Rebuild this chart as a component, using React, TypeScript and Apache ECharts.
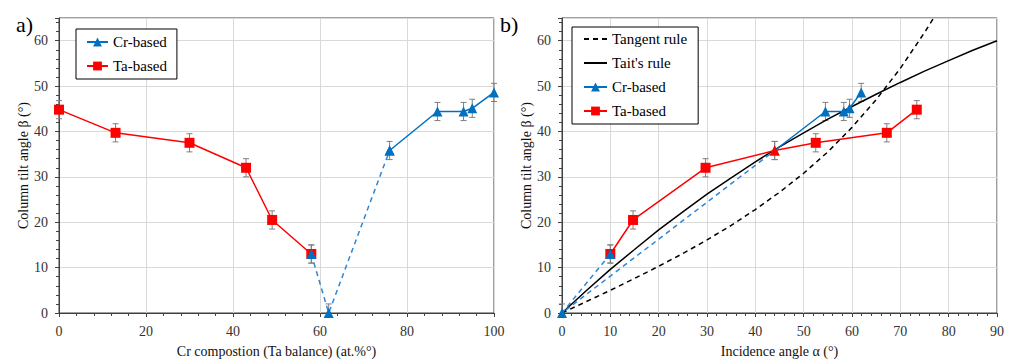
import React, { useEffect, useRef } from 'react';
import * as echarts from 'echarts';

// ---------- Panel a) : composition ----------
const taComp = [0, 13, 30, 43, 49, 58];
const taBetaA = [44.8, 39.7, 37.5, 32.0, 20.5, 13.0];
const crComp = [58, 62, 76, 87, 93, 95, 100];
const crBetaA = [13.0, 0, 35.8, 44.4, 44.4, 45.1, 48.6];

// ---------- Panel b) : incidence angle ----------
const taAlpha = [10, 14.7, 29.7, 44, 52.5, 67.2, 73.4];
const taBetaB = [13.0, 20.5, 32.0, 35.8, 37.5, 39.7, 44.8];
const crAlpha = [10, 0, 44, 54.5, 58.3, 59.5, 61.9];
const crBetaB = [13.0, 0, 35.8, 44.4, 44.4, 45.1, 48.6];

const tangentAlpha = [0, 5, 10, 15, 20, 25, 30, 35, 40, 45, 50, 55, 60, 65, 70, 75, 76.9];
const tangentBeta = [0, 2.5, 5.0, 7.6, 10.3, 13.1, 16.1, 19.3, 22.8, 26.6, 30.8, 35.5, 40.9, 47.0, 53.9, 61.8, 65.0];
const taitAlpha = [0, 5, 10, 15, 20, 25, 30, 35, 40, 45, 50, 55, 60, 65, 70, 75, 80, 85, 90];
const taitBeta = [0, 4.9, 9.6, 14.0, 18.3, 22.3, 26.2, 29.8, 33.3, 36.6, 39.7, 42.7, 45.5, 48.2, 50.8, 53.3, 55.6, 57.9, 60.0];

const errBeta = 2.0; // error bar half-length (°)

const yTicks = { min: 0, max: 65, interval: 10 };

const RED = '#FF0000';
const BLUE = '#0070C0';
const BLUE_DASH = '#2F86D6';
const GREY = '#7F7F7F';
const FONT = 'Liberation Serif';

const zip = (xs: number[], ys: number[]) => xs.map((x, i) => [x, ys[i]]);

function errorSeries(xs: number[], ys: number[], idx: number) {
  return {
    type: 'custom',
    xAxisIndex: idx,
    yAxisIndex: idx,
    z: 1,
    silent: true,
    encode: { x: 0, y: 1 },
    data: xs.map((x, i) => [x, ys[i], errBeta]),
    renderItem: (params: any, api: any) => {
      const x = api.value(0);
      const y = api.value(1);
      const e = api.value(2);
      const top = api.coord([x, y + e]);
      const lowVal = Math.max(y - e, 0);
      const bot = api.coord([x, lowVal]);
      const w = 3;
      const st = { stroke: GREY, lineWidth: 1 };
      const children: any[] = [
        { type: 'line', shape: { x1: top[0], y1: top[1], x2: bot[0], y2: bot[1] }, style: st },
        { type: 'line', shape: { x1: top[0] - w, y1: top[1], x2: top[0] + w, y2: top[1] }, style: st },
      ];
      if (y - e >= 0) {
        children.push({ type: 'line', shape: { x1: bot[0] - w, y1: bot[1], x2: bot[0] + w, y2: bot[1] }, style: st });
      }
      return { type: 'group', children };
    },
  };
}

function xAxis(idx: number, max: number, interval: number, name: string) {
  return {
    type: 'value',
    gridIndex: idx,
    min: 0,
    max,
    interval,
    name,
    nameLocation: 'middle',
    nameGap: 31,
    nameTextStyle: { fontFamily: FONT, fontSize: 14, color: '#111' },
    axisLine: { show: true, onZero: false, lineStyle: { color: '#404040', width: 1 } },
    axisTick: { show: true, length: 4, lineStyle: { color: '#404040' } },
    minorTick: { show: true, splitNumber: 5, length: 3, lineStyle: { color: '#404040' } },
    axisLabel: { margin: 11, fontFamily: FONT, fontSize: 14, color: '#333' },
    splitLine: { show: true, lineStyle: { color: '#D9D9D9', width: 1 } },
  };
}

function yAxis(idx: number) {
  return {
    type: 'value',
    gridIndex: idx,
    min: yTicks.min,
    max: yTicks.max,
    interval: yTicks.interval,
    name: 'Column tilt angle β (°)',
    nameLocation: 'middle',
    nameGap: 29,
    nameTextStyle: { fontFamily: FONT, fontSize: 14, color: '#111' },
    axisLine: { show: true, onZero: false, lineStyle: { color: '#404040', width: 1 } },
    axisTick: { show: true, length: 4, lineStyle: { color: '#404040' } },
    minorTick: { show: true, splitNumber: 5, length: 3, lineStyle: { color: '#404040' } },
    axisLabel: { margin: 11, fontFamily: FONT, fontSize: 14, color: '#333', showMaxLabel: false },
    splitLine: { show: true, lineStyle: { color: '#D9D9D9', width: 1 } },
  };
}

const noSymbol = { color: 'rgba(0,0,0,0)', borderColor: 'rgba(0,0,0,0)', borderWidth: 0 };

export default function App() {
  const ref = useRef<HTMLDivElement>(null);

  useEffect(() => {
    if (!ref.current) return;
    const chart = echarts.init(ref.current, undefined, { renderer: 'svg' });

    const legendCommon = {
      orient: 'vertical',
      backgroundColor: '#fff',
      borderColor: '#000',
      borderWidth: 1,
      borderRadius: 0,
      itemHeight: 11,
      itemGap: 8,
      selectedMode: false,
      textStyle: { fontFamily: FONT, fontSize: 15, color: '#000', lineHeight: 16 },
    };

    const option: any = {
      animation: false,
      backgroundColor: '#fff',
      textStyle: { fontFamily: FONT },
      grid: [
        { left: 59, top: 18, width: 435, height: 298, show: true, borderColor: '#404040', borderWidth: 1, backgroundColor: 'transparent' },
        { left: 562, top: 18, width: 435, height: 298, show: true, borderColor: '#404040', borderWidth: 1, backgroundColor: 'transparent' },
      ],
      xAxis: [
        xAxis(0, 100, 20, 'Cr compostion (Ta balance) (at.%°)'),
        xAxis(1, 90, 10, 'Incidence angle α (°)'),
      ],
      yAxis: [yAxis(0), yAxis(1)],
      legend: [
        {
          ...legendCommon,
          data: ['Cr-based', 'Ta-based'],
          left: 76,
          top: 29,
          itemWidth: 21,
          padding: [5, 10, 5, 10],
        },
        {
          ...legendCommon,
          data: [
            { name: 'Tangent rule', itemStyle: noSymbol },
            { name: "Tait's rule", itemStyle: noSymbol },
            'Cr-based',
            'Ta-based',
          ],
          left: 572,
          top: 27,
          itemWidth: 23,
          padding: [4, 11, 5, 11],
        },
      ],
      graphic: [
        { type: 'text', left: 16, top: 13, style: { text: 'a)', font: `22px ${FONT}`, fill: '#000' } },
        { type: 'text', left: 500, top: 13, style: { text: 'b)', font: `22px ${FONT}`, fill: '#000' } },
      ],
      series: [
        // ---- panel a ----
        errorSeries(taComp, taBetaA, 0),
        errorSeries(crComp, crBetaA, 0),
        {
          name: 'Ta-based',
          type: 'line',
          xAxisIndex: 0,
          yAxisIndex: 0,
          z: 3,
          data: zip(taComp, taBetaA),
          symbol: 'rect',
          symbolSize: 10,
          lineStyle: { color: RED, width: 1.5 },
          itemStyle: { color: RED },
        },
        {
          name: 'Cr-based-dashed-a',
          type: 'line',
          xAxisIndex: 0,
          yAxisIndex: 0,
          z: 4,
          data: zip(crComp.slice(0, 3), crBetaA.slice(0, 3)),
          symbol: 'triangle',
          symbolSize: 10,
          lineStyle: { color: BLUE_DASH, width: 1.5, type: [5, 4] },
          itemStyle: { color: BLUE },
        },
        {
          name: 'Cr-based',
          type: 'line',
          xAxisIndex: 0,
          yAxisIndex: 0,
          z: 4,
          data: zip(crComp.slice(2), crBetaA.slice(2)),
          symbol: 'triangle',
          symbolSize: 10,
          lineStyle: { color: BLUE, width: 1.5 },
          itemStyle: { color: BLUE },
        },
        // ---- panel b ----
        errorSeries(taAlpha, taBetaB, 1),
        errorSeries(crAlpha, crBetaB, 1),
        {
          name: 'Tangent rule',
          type: 'line',
          xAxisIndex: 1,
          yAxisIndex: 1,
          z: 2,
          data: zip(tangentAlpha, tangentBeta),
          symbol: 'none',
          lineStyle: { color: '#000', width: 1.5, type: [5, 4] },
          itemStyle: { color: '#000' },
        },
        {
          name: "Tait's rule",
          type: 'line',
          xAxisIndex: 1,
          yAxisIndex: 1,
          z: 2,
          data: zip(taitAlpha, taitBeta),
          symbol: 'none',
          lineStyle: { color: '#000', width: 1.5 },
          itemStyle: { color: '#000' },
        },
        {
          name: 'Cr-based-dashed-b',
          type: 'line',
          xAxisIndex: 1,
          yAxisIndex: 1,
          z: 3,
          data: zip(crAlpha.slice(0, 3), crBetaB.slice(0, 3)),
          symbol: 'none',
          lineStyle: { color: BLUE_DASH, width: 1.5, type: [5, 4] },
          itemStyle: { color: BLUE },
        },
        {
          name: 'Cr-based',
          type: 'line',
          xAxisIndex: 1,
          yAxisIndex: 1,
          z: 4,
          data: zip(crAlpha.slice(2), crBetaB.slice(2)),
          symbol: 'triangle',
          symbolSize: 10,
          lineStyle: { color: BLUE, width: 1.5 },
          itemStyle: { color: BLUE },
        },
        {
          name: 'Cr-based-markers-b',
          type: 'line',
          xAxisIndex: 1,
          yAxisIndex: 1,
          z: 6,
          data: zip(crAlpha.slice(0, 2), crBetaB.slice(0, 2)),
          symbol: 'triangle',
          symbolSize: 10,
          lineStyle: { opacity: 0 },
          itemStyle: { color: BLUE },
        },
        {
          name: 'Ta-based',
          type: 'line',
          xAxisIndex: 1,
          yAxisIndex: 1,
          z: 5,
          data: zip(taAlpha, taBetaB).map((p, i) =>
            taAlpha[i] === 44 ? { value: p, symbol: 'triangle', symbolSize: 10 } : p
          ),
          symbol: 'rect',
          symbolSize: 10,
          lineStyle: { color: RED, width: 1.5 },
          itemStyle: { color: RED },
        },
      ],
    };

    chart.setOption(option);
    return () => chart.dispose();
  }, []);

  return (
    <div
      ref={ref}
      style={{ position: 'absolute', left: 0, top: 0, width: 1011, height: 363 }}
    />
  );
}
